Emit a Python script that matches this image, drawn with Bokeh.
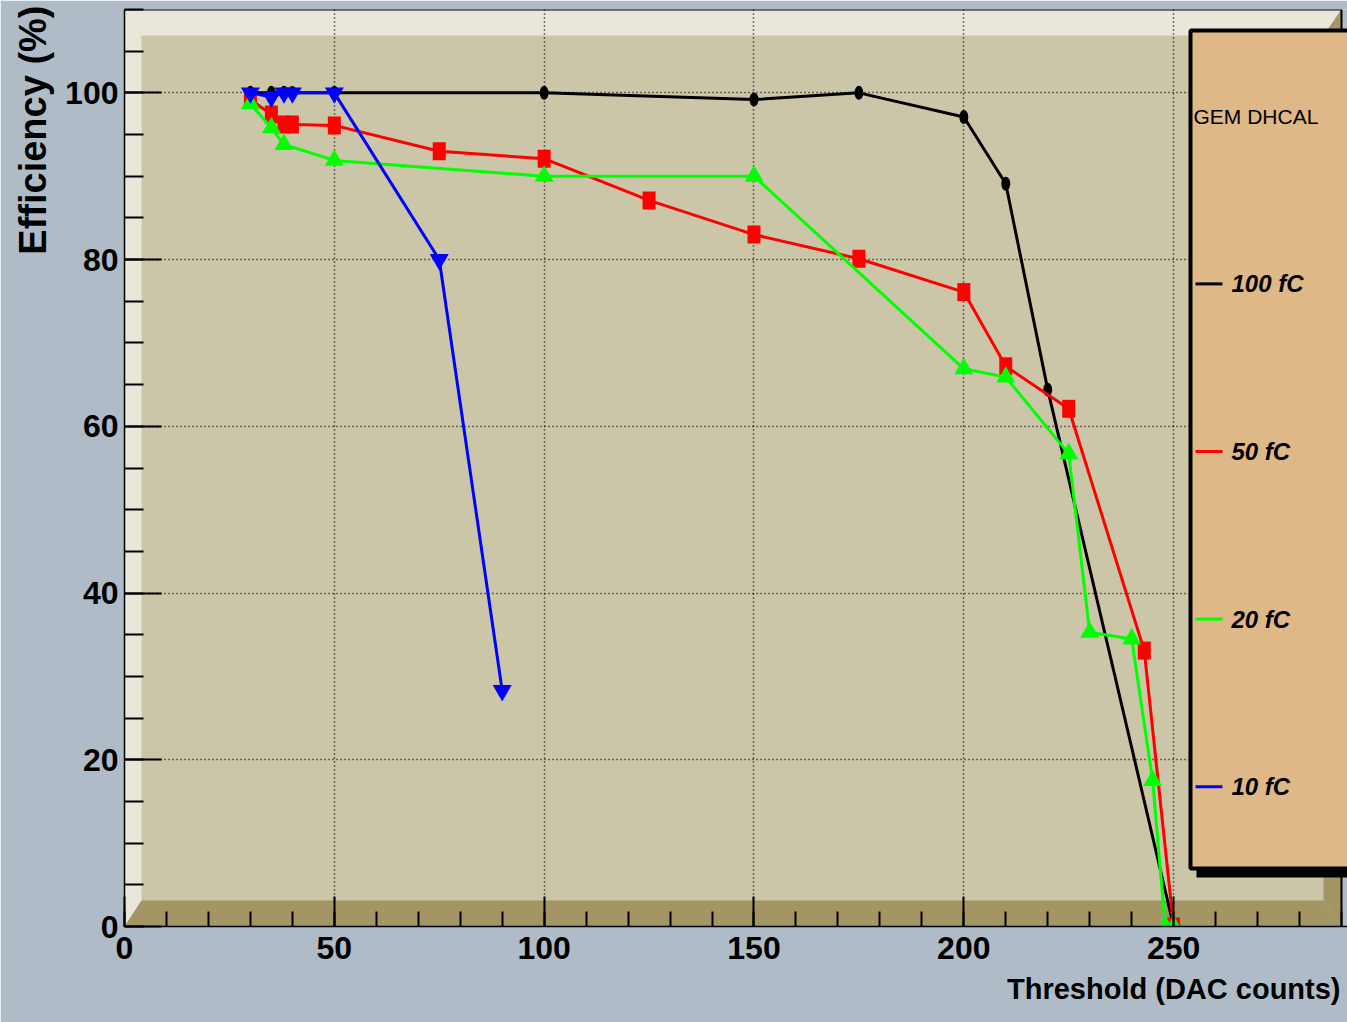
from bokeh.core.properties import value
from bokeh.embed import file_html
from bokeh.models import Range1d, SingleIntervalTicker, Title
from bokeh.plotting import figure
from bokeh.resources import INLINE

# Threshold scans (DAC counts) and measured efficiency (%) per injected charge
thr_100fc = [30, 35, 38, 40, 50, 100, 150, 175, 200, 210, 220, 250]
eff_100fc = [100, 100, 100, 100, 100, 100, 99.2, 100, 97.1, 89.1, 64.4, 0]

thr_50fc = [30, 35, 38, 40, 50, 75, 100, 125, 150, 175, 200, 210, 225, 243, 250]
eff_50fc = [99.2, 97.4, 96.2, 96.2, 96.1, 93.0, 92.1, 87.1, 83.0, 80.1, 76.1, 67.2, 62.1, 33.1, 0]

thr_20fc = [30, 35, 38, 50, 100, 150, 200, 210, 225, 230, 240, 245, 248, 250]
eff_20fc = [98.7, 95.8, 93.8, 91.9, 90.0, 90.0, 66.9, 65.9, 56.7, 35.3, 34.5, 17.5, 0, 0]

thr_10fc = [30, 35, 38, 40, 50, 75, 90]
eff_10fc = [100, 99.5, 100, 100, 100, 80.0, 28.3]

legend_title = "GEM DHCAL"
series_labels = ["100 fC", "50 fC", "20 fC", "10 fC"]
series_colors = ["#000000", "#FF0000", "#00FF00", "#0000FF"]

x_label = "Threshold (DAC counts)"
y_label = "Efficiency (%)"

# ---- page geometry (pixels) ----
W, H = 1347, 1022
FL, FR, FT, FB = 124, 1341, 9, 926      # frame box
X_MAX, Y_MAX = 290, 110
SX = (FR - FL) / X_MAX
SY = (FB - FT) / Y_MAX


def dx(px):
    return (px - FL) / SX


def dy(py):
    return (FB - py) / SY


BG = "#AFBCC8"
PANEL = "#CCC6A9"
LIGHT = "#E9E6DA"
DARK = "#A39664"
TAN = "#DEB887"
FONT = "Liberation Sans"

p = figure(
    width=W, height=H,
    x_range=Range1d(0, dx(W)), y_range=Range1d(0, Y_MAX),
    min_border_left=FL, min_border_right=0, min_border_top=FT,
    min_border_bottom=H - FB,
    output_backend="svg", toolbar_location=None,
    background_fill_color=PANEL, border_fill_color=BG,
    outline_line_color=None,
)

# strip to the right of the frame box
p.quad(left=[X_MAX], right=[dx(W) + 1], bottom=[0], top=[Y_MAX],
       fill_color=BG, line_color=None, level="image")

# bevelled frame edges
bl, br, bt, bb = dx(FL + 17), dx(FR - 18), dy(FT + 26), dy(FB - 26)
p.patches(
    xs=[[0, 0, bl, bl], [0, X_MAX, br, bl]],
    ys=[[0, Y_MAX, bt, bb], [Y_MAX, Y_MAX, bt, bt]],
    fill_color=LIGHT, line_color=None, level="image",
)
p.patches(
    xs=[[X_MAX, X_MAX, br, br], [0, bl, br, X_MAX]],
    ys=[[Y_MAX, 0, bb, bt], [0, bb, bb, 0]],
    fill_color=DARK, line_color=None, level="image",
)
# frame outline on top and right
p.segment(x0=[0, X_MAX], y0=[Y_MAX, 0], x1=[X_MAX, X_MAX], y1=[Y_MAX, Y_MAX],
          line_color="black", line_width=2, level="image")

# grid
for g in (p.xgrid, p.ygrid):
    g.grid_line_color = "black"
    g.grid_line_dash = "1 3"
    g.grid_line_width = 1.5

# axes
p.xaxis.ticker = SingleIntervalTicker(interval=50, num_minor_ticks=5)
p.yaxis.ticker = SingleIntervalTicker(interval=20, num_minor_ticks=4)
for ax in (p.xaxis, p.yaxis):
    ax.axis_line_color = "black"
    ax.axis_line_width = 1.5
    ax.major_tick_out = 0
    ax.minor_tick_out = 0
    ax.major_tick_line_color = "black"
    ax.minor_tick_line_color = "black"
    ax.major_tick_line_width = 2
    ax.minor_tick_line_width = 2
    ax.major_label_text_font = FONT
    ax.major_label_text_font_style = "bold"
    ax.major_label_text_font_size = "32px"
    ax.major_label_text_color = "black"
p.yaxis.major_tick_in = 37
p.yaxis.minor_tick_in = 19
p.yaxis.major_label_standoff = 6
p.xaxis.major_tick_in = 30
p.xaxis.minor_tick_in = 15
p.xaxis.major_label_standoff = 10

# data series
LW = 3
p.line(thr_100fc, eff_100fc, line_color=series_colors[0], line_width=LW)
p.ellipse(x=thr_100fc, y=eff_100fc, width=9, height=14, width_units="screen",
          height_units="screen", fill_color=series_colors[0], line_color=None)

p.line(thr_50fc, eff_50fc, line_color=series_colors[1], line_width=LW)
p.rect(x=thr_50fc, y=eff_50fc, width=13, height=18, width_units="screen",
       height_units="screen", fill_color=series_colors[1], line_color=None)

p.line(thr_20fc, eff_20fc, line_color=series_colors[2], line_width=LW)
p.scatter(thr_20fc, eff_20fc, marker="triangle", size=19,
          fill_color=series_colors[2], line_color=None)

p.line(thr_10fc, eff_10fc, line_color=series_colors[3], line_width=LW)
p.scatter(thr_10fc, eff_10fc, marker="inverted_triangle", size=19,
          fill_color=series_colors[3], line_color=None)

# legend box with shadow
LB_L, LB_T, LB_B = 1190, 30, 868
p.quad(left=[dx(LB_L + 6)], right=[dx(W) + 2], top=[dy(LB_T + 8)],
       bottom=[dy(LB_B + 9)], fill_color="black", line_color=None)
p.quad(left=[dx(LB_L)], right=[dx(W) + 2], top=[dy(LB_T)], bottom=[dy(LB_B)],
       fill_color=TAN, line_color="black", line_width=4)

row_h = (LB_B - LB_T) / (len(series_labels) + 1)
row_y = [dy(LB_T + row_h * (i + 0.5) + 2) for i in range(len(series_labels) + 1)]

p.text(x=[dx(1193)], y=[row_y[0]], text=[legend_title],
       text_font=value(FONT), text_font_size="21px",
       text_baseline="middle", text_align="left", text_color="black")
p.segment(x0=[dx(1195)] * 4, x1=[dx(1222)] * 4, y0=row_y[1:], y1=row_y[1:],
          line_color=series_colors, line_width=3)
p.text(x=[dx(1231)] * 4, y=row_y[1:], text=series_labels,
       text_font=value(FONT), text_font_style="bold italic",
       text_font_size="24px", text_baseline="middle", text_align="left",
       text_color="black")

# axis titles, pushed to the far end of each axis
p.add_layout(Title(text=y_label, align="right", vertical_align="top",
                   text_font=FONT, text_font_style="bold",
                   text_font_size="38px", text_color="black",
                   standoff=14, offset=-4), "left")
p.add_layout(Title(text=x_label, align="right", vertical_align="top",
                   text_font=FONT, text_font_style="bold",
                   text_font_size="29px", text_color="black",
                   standoff=22, offset=7), "below")

open("out.html", "w").write(file_html(p, INLINE))
